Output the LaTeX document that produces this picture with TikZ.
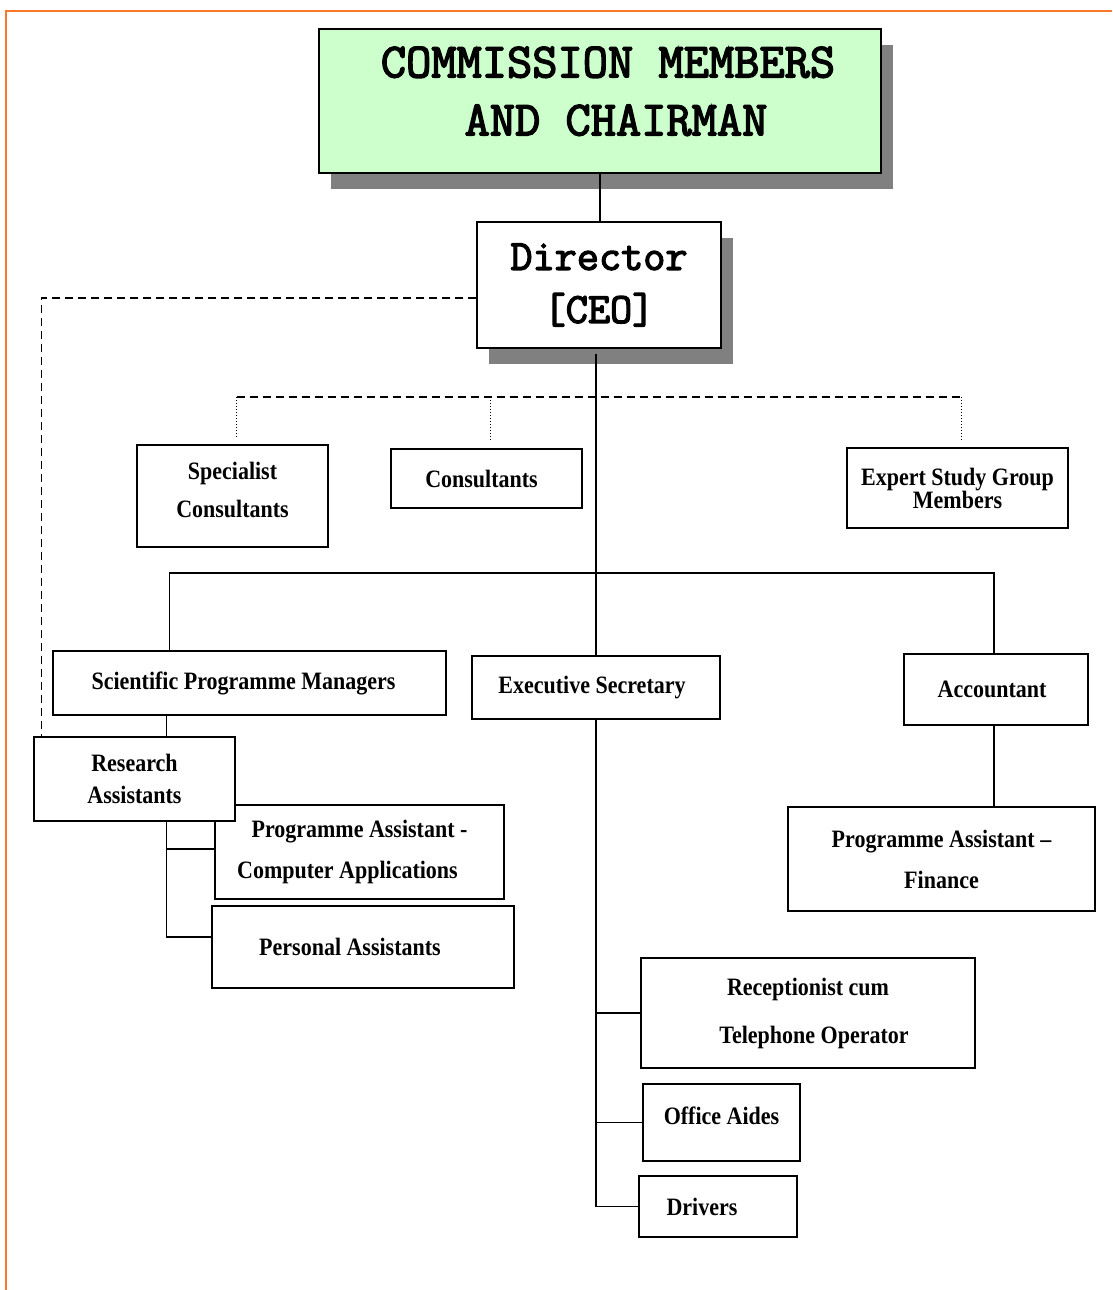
\documentclass[tikz,border=0pt]{standalone}
\usepackage{fontspec}
\newfontfamily\boxfont{Liberation Serif}[FakeStretch=0.88]
\newfontfamily\headfont{Latin Modern Mono}[FakeBold=3]
\usetikzlibrary{shadows,positioning,calc}
\definecolor{framecol}{RGB}{250,120,40}
\definecolor{boardfill}{RGB}{204,255,204}

\begin{document}
\begin{tikzpicture}
  [x=1pt,y=-1pt,
  unit/.style={draw,line width=1.4pt,fill=white,align=center,inner sep=0pt,
    font={\boxfont\bfseries\fontsize{25}{30}\selectfont}},
  headunit/.style={unit,drop shadow={shadow xshift=12pt,shadow yshift=-16pt,fill=black!50,opacity=1}},
  link/.style={line width=1.3pt},
  dashlink/.style={line width=1.3pt,dash pattern=on 8pt off 5pt},
  dotlink/.style={line width=1pt,dash pattern=on 1pt off 2pt}
  ]
  \useasboundingbox (0,0) rectangle (1112,1290);
  \draw[framecol,line width=2.5pt] (6,1290) -- (6,11) -- (1112,11);

  % top of the chart
  \node[headunit,fill=boardfill,minimum width=562pt,minimum height=144pt,
    font={\headfont\fontsize{49}{58}\selectfont}] (board) at (600,101)
    {\hspace*{16pt}COMMISSION MEMBERS\\\hspace*{32pt}AND CHAIRMAN\\[-38pt]\mbox{}};
  \node[headunit,minimum width=244pt,minimum height=126pt,
    font={\headfont\fontsize{43}{50}\selectfont}] (director) at (599,285)
    {Director\\[3pt]{[CEO]}};

  % advisers
  \node[unit,minimum width=191pt,minimum height=102pt] (specialist) at (232.5,496) {Specialist\\[8pt]Consultants\\[-18pt]\mbox{}};
  \node[unit,minimum width=191pt,minimum height=59pt] (consult) at (486.5,478.5) {Consultants\hspace*{10pt}};
  \node[unit,minimum width=221pt,minimum height=80pt] (expert) at (957.5,488) {Expert Study Group\\[-7pt]Members};

  % staff
  \node[unit,minimum width=393pt,minimum height=64pt] (spm) at (249.5,683) {Scientific Programme Managers\hspace*{12pt}};
  \node[unit,minimum width=248pt,minimum height=63pt] (execsec) at (596,687.5) {Executive Secretary\hspace*{8pt}};
  \node[unit,minimum width=184pt,minimum height=71pt] (acct) at (996,689.5) {Accountant\hspace*{8pt}};
  \node[unit,minimum width=289pt,minimum height=94pt] (pacomp) at (359.5,852) {Programme Assistant -\\[11pt]Computer Applications\hspace*{24pt}};
  \node[unit,minimum width=201pt,minimum height=84pt] (research) at (134.5,779) {Research\\[2pt]Assistants};
  \node[unit,minimum width=302pt,minimum height=82pt] (personal) at (363,947) {Personal Assistants\hspace*{26pt}};
  \node[unit,minimum width=307pt,minimum height=104pt] (pafin) at (941.5,859) {Programme Assistant –\\[11pt]Finance};
  \node[unit,minimum width=334pt,minimum height=110pt] (reception) at (808,1013) {Receptionist cum\\[18pt]\hspace*{12pt}Telephone Operator};
  \node[unit,minimum width=157pt,minimum height=77pt] (aides) at (721.5,1122.5) {Office Aides\\[-16pt]\mbox{}};
  \node[unit,minimum width=158pt,minimum height=61pt] (drivers) at (718,1206.5) {Drivers\hspace*{32pt}};

  \coordinate (topbus) at (597,397);
  \coordinate (midbus) at (597,573);
  \path (director.south) ++(0,5) coordinate (dirfoot);

  \draw[link] (board.south) -- (board.south |- director.north);
  \draw[link] (dirfoot -| execsec.north) -- (execsec.north);
  \draw[dashlink] ([yshift=-13pt]director.west) -| ([xshift=8pt]research.north west);

  \draw[dashlink] ([xshift=4pt]specialist.north |- topbus) -- ([xshift=2pt]expert.north |- topbus);
  \foreach \grp in {specialist,consult,expert}
    \draw[dotlink] ([xshift=4pt]\grp.north |- topbus) -- ([xshift=4pt,yshift=7pt]\grp.north);

  \draw[link] ([xshift=-80pt]spm.north) |- (midbus) -| ([xshift=-2pt]acct.north);
  \draw[link] ([xshift=32pt]research.north) -- ([xshift=32pt]research.north |- spm.south);
  \draw[link] ([xshift=32pt]research.south) |- ([yshift=3pt]pacomp.west);
  \draw[link] ([xshift=32pt]research.south) |- ([yshift=10pt]personal.west);
  \draw[link] ([xshift=-2pt]acct.south) -- ([xshift=-2pt]pafin.north -| acct.south);

  \foreach \duty in {reception,aides,drivers}
    \draw[link] (execsec.south) |- (\duty.west);
\end{tikzpicture}
\end{document}
